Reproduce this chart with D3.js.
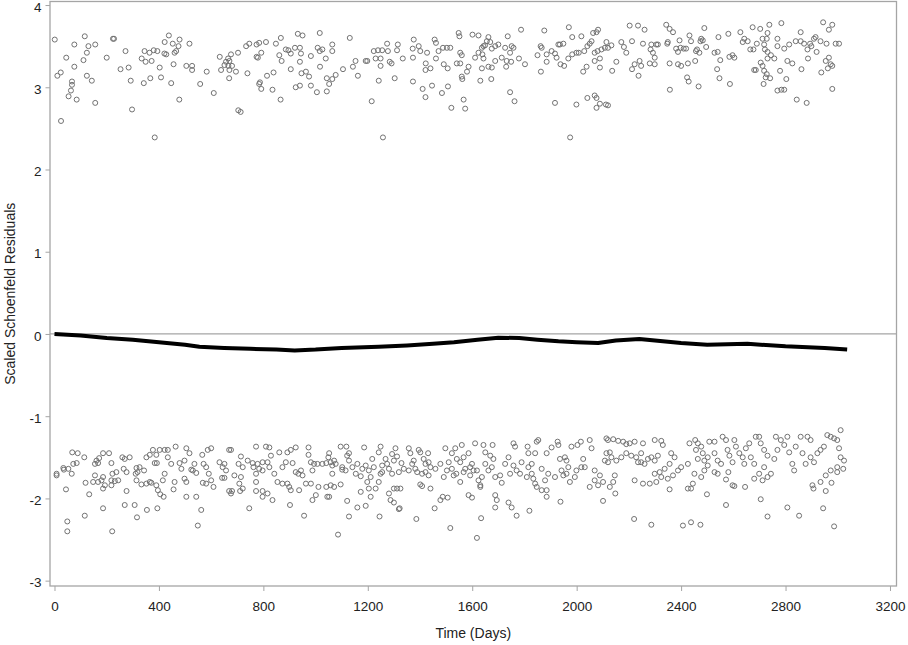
<!DOCTYPE html>
<html>
<head>
<meta charset="utf-8">
<script src="https://cdn.jsdelivr.net/npm/d3@7"></script>
<style>
  body { margin: 0; background: #fff; }
  text { font-family: "Liberation Sans", Arial, sans-serif; }
</style>
</head>
<body>
<div id="chart"></div>
<script>
// Residual points, upper band: [day, scaled residual]
const upperPoints = [
  [1,3.58],[116,3.62],[224,3.59],[228,3.59],[438,3.63],[479,3.58],[932,3.65],[950,3.63],[1016,3.66],
  [76,3.52],[130,3.50],[156,3.52],[45,3.36],[124,3.42],[111,3.33],[76,3.25],[11,3.14],[24,3.18],
  [67,3.07],[67,3.03],[63,2.96],[54,2.89],[85,2.85],[25,2.59],[124,3.14],[143,3.08],[156,2.81],
  [200,3.36],[272,3.44],[253,3.22],[284,3.24],[292,3.08],[297,2.73],
  [334,3.35],[349,3.31],[345,3.44],[364,3.42],[380,3.45],[394,3.44],[372,3.32],[403,3.24],[342,3.05],
  [367,3.11],[408,3.12],[447,3.05],[478,2.85],
  [422,3.55],[453,3.53],[475,3.50],[466,3.44],[460,3.42],[428,3.40],[421,3.41],[456,3.28],
  [517,3.53],[505,3.26],[527,3.26],[527,3.21],[558,3.04],[583,3.19],[610,2.93],[633,3.37],
  [676,3.40],[665,3.35],[657,3.31],[670,3.32],[651,3.27],[666,3.26],[680,3.26],[638,3.21],[670,3.21],
  [695,3.19],[669,3.11],[703,3.42],[704,2.72],[713,2.70],
  [734,3.50],[746,3.53],[774,3.52],[784,3.54],[810,3.55],[774,3.37],[779,3.36],[792,3.42],[739,3.17],
  [787,3.06],[784,3.04],[792,2.98],[814,3.14],[839,3.18],[835,2.97],
  [848,3.53],[867,3.60],[861,3.39],[870,3.32],[866,2.85],
  [886,3.46],[896,3.45],[905,3.41],[921,3.48],[940,3.48],[944,3.41],[905,3.22],[940,3.31],[946,3.17],
  [963,3.19],[975,3.13],[924,3.00],[940,3.02],[982,3.02],[1005,2.94],[982,3.38],
  [1008,3.48],[1016,3.44],[1026,3.46],[1039,3.35],[1017,3.25],[1043,3.11],[1043,2.95],
  [384,2.39],[1258,2.39],[1975,2.39],
  [1064,3.52],[1064,3.44],[1131,3.60],[1052,3.04],[1064,3.10],[1077,3.15],[1105,3.22],[1143,3.25],
  [1153,3.32],[1162,3.14],
  [1192,3.32],[1198,3.32],[1223,3.44],[1239,3.45],[1255,3.45],[1274,3.53],[1277,3.44],[1230,3.35],
  [1249,3.35],[1249,3.26],[1284,3.31],[1291,3.29],[1242,3.08],[1215,2.83],[1303,3.11],[1315,3.52],
  [1312,3.45],[1334,3.35],
  [1376,3.58],[1372,3.47],[1395,3.50],[1401,3.44],[1427,3.42],[1373,3.36],[1422,3.29],[1440,3.23],
  [1421,3.21],[1373,3.07],[1410,2.98],[1421,2.88],[1446,3.02],
  [1456,3.58],[1461,3.54],[1471,3.44],[1488,3.48],[1503,3.48],[1516,3.48],[1461,3.35],[1491,3.28],
  [1506,3.23],[1484,2.93],[1507,3.01],[1520,2.75],
  [1548,3.66],[1551,3.62],[1554,3.42],[1560,3.39],[1541,3.29],[1554,3.29],[1586,3.25],[1580,3.19],
  [1560,3.13],[1562,3.10],[1567,2.85],[1573,2.74],
  [1601,3.64],[1624,3.63],[1611,3.36],[1624,3.42],[1637,3.48],[1643,3.50],[1649,3.51],[1656,3.56],
  [1662,3.61],[1669,3.55],[1639,3.40],[1643,3.35],[1675,3.47],[1688,3.50],[1700,3.52],[1688,3.32],
  [1675,3.24],[1662,3.25],[1637,3.23],[1631,3.08],[1673,3.10],
  [1726,3.48],[1751,3.50],[1758,3.48],[1745,3.42],[1713,3.36],[1732,3.32],[1749,3.31],[1730,3.25],
  [1736,3.62],[1787,3.70],[1779,3.35],[1802,3.28],[1745,2.94],[1762,2.83],
  [1862,3.50],[1866,3.48],[1850,3.39],[1885,3.40],[1904,3.44],[1917,3.41],[1885,3.31],[1923,3.36],
  [1876,3.69],[1863,3.19],
  [1930,3.52],[1936,3.52],[1949,3.53],[1938,3.28],[1952,3.26],[1968,3.35],[1983,3.40],[1999,3.42],
  [2008,3.42],[2029,3.44],[2041,3.50],[2050,3.53],[2057,3.56],[1970,3.73],[1983,3.61],[2018,3.62],
  [1917,2.81],[1999,2.79],[2041,2.87],[2069,2.90],[2076,2.87],[2089,2.80],[2076,2.75],[2038,3.25],
  [2025,3.19],
  [2069,3.42],[2080,3.44],[2095,3.46],[2089,3.35],[2069,3.32],[2089,3.24],[2108,3.48],[2114,3.55],
  [2063,3.66],[2076,3.67],[2082,3.70],[2112,2.79],
  [2203,3.75],[2235,3.75],[2260,3.70],[2120,3.48],[2133,3.51],[2171,3.55],[2181,3.49],[2190,3.42],
  [2212,3.56],[2254,3.53],[2152,3.31],[2136,3.20],[2212,3.22],[2222,3.28],[2241,3.32],[2247,3.26],
  [2237,3.14],[2120,2.78],
  [2286,3.52],[2283,3.46],[2292,3.42],[2299,3.36],[2305,3.52],[2311,3.52],[2280,3.29],[2299,3.28],
  [2343,3.76],[2356,3.71],[2369,3.67],[2349,3.55],[2347,3.53],[2381,3.47],[2388,3.43],[2398,3.48],
  [2410,3.47],[2419,3.47],[2394,3.57],[2432,3.63],[2438,3.56],
  [2356,3.29],[2388,3.28],[2400,3.26],[2426,3.29],[2454,3.32],[2423,3.12],[2429,3.07],[2467,3.01],
  [2357,2.97],
  [2477,3.59],[2474,3.56],[2483,3.57],[2489,3.72],[2496,3.49],[2457,3.44],[2470,3.42],[2461,3.46],
  [2528,3.42],[2540,3.43],[2550,3.33],[2543,3.61],[2581,3.65],[2538,3.22],[2547,3.11],[2587,3.04],
  [2585,3.37],[2597,3.39],[2604,3.36],[2627,3.67],[2636,3.55],[2642,3.59],[2655,3.56],[2665,3.46],
  [2677,3.46],[2674,3.73],[2703,3.71],[2690,3.53],[2712,3.59],[2731,3.66],[2738,3.76],[2728,3.59],
  [2721,3.46],[2731,3.43],[2744,3.39],[2731,3.35],[2757,3.35],[2718,3.52],[2769,3.59],[2769,3.50],
  [2784,3.78],[2795,3.47],[2814,3.52],[2807,3.32],[2826,3.29],[2839,3.56],[2858,3.56],[2871,3.53],
  [2858,3.67],[2884,3.46],[2886,3.35],[2861,3.22],
  [2894,3.53],[2899,3.50],[2909,3.59],[2915,3.61],[2919,3.43],[2934,3.56],[2957,3.53],[2992,3.53],
  [3005,3.53],[2944,3.79],[2966,3.70],[2979,3.76],[2954,3.32],[2966,3.36],[2973,3.28],[2979,3.26],
  [2962,3.23],[2937,3.18],[2979,2.98],[2843,2.85],[2881,2.81],
  [2680,3.21],[2686,3.21],[2705,3.30],[2712,3.26],[2718,3.20],[2728,3.16],[2724,3.12],[2741,3.11],
  [2716,3.04],[2769,2.96],[2784,2.97],[2795,2.97],[2779,3.20],[2803,3.10]
];

// Residual points, lower band: [day, scaled residual]
const lowerPoints = [
  [8,-1.70],[8,-1.72],[34,-1.63],[36,-1.65],[53,-1.64],[66,-1.70],[68,-1.44],[89,-1.45],[72,-1.58],
  [85,-1.57],[114,-1.50],[44,-1.89],[49,-2.28],[49,-2.40],[116,-2.21],[119,-1.81],[133,-1.95],
  [155,-1.58],[161,-1.54],[167,-1.57],[171,-1.51],[186,-1.45],[209,-1.45],[155,-1.72],[148,-1.80],
  [167,-1.80],[180,-1.78],[186,-1.74],[193,-1.84],[186,-1.88],[186,-2.12],
  [218,-1.57],[222,-1.70],[237,-1.68],[218,-1.78],[231,-1.79],[244,-1.78],[218,-1.84],[221,-2.40],
  [260,-1.50],[269,-1.52],[288,-1.50],[265,-1.64],[276,-1.68],[276,-1.91],[269,-2.08],[307,-2.08],
  [314,-1.63],[318,-1.68],[311,-1.70],[326,-1.62],[343,-1.66],[314,-1.78],[333,-1.83],[352,-1.82],
  [365,-1.80],[352,-1.50],[365,-1.47],[316,-2.23],[354,-2.14],[394,-2.12],
  [377,-1.41],[390,-1.47],[403,-1.41],[422,-1.41],[434,-1.41],[384,-1.57],[392,-1.57],[371,-1.81],
  [390,-1.84],[396,-1.90],[405,-1.95],[418,-1.98],
  [415,-1.78],[422,-1.70],[434,-1.50],[447,-1.58],[456,-1.89],[460,-1.80],[464,-1.37],
  [479,-1.57],[486,-1.64],[498,-1.54],[505,-1.39],[498,-1.76],[505,-1.80],[517,-1.45],[524,-1.65],
  [530,-1.66],[543,-1.69],[536,-1.58],[505,-1.98],[543,-1.98],[562,-2.14],[549,-2.33],
  [566,-1.47],[571,-1.58],[581,-1.62],[587,-1.41],[600,-1.39],[591,-1.70],[581,-1.82],[600,-1.78],
  [609,-1.86],[568,-1.81],
  [632,-1.56],[644,-1.62],[651,-1.58],[657,-1.66],[642,-1.75],[651,-1.75],[669,-1.41],[676,-1.41],
  [669,-1.91],[680,-1.91],[676,-1.94],[689,-1.72],[705,-1.58],[714,-1.49],[721,-1.62],[714,-1.74],
  [708,-1.82],[721,-1.88],[711,-1.91],[746,-2.12],
  [740,-1.54],[759,-1.57],[772,-1.37],[762,-1.62],[778,-1.58],[784,-1.64],[772,-1.70],[797,-1.66],
  [810,-1.37],[823,-1.38],[797,-1.56],[816,-1.56],[823,-1.62],[829,-1.48],[772,-1.80],[772,-1.91],
  [797,-1.91],[797,-1.98],[816,-1.94],[835,-2.02],[854,-1.80],[842,-1.70],[861,-1.44],[873,-1.62],
  [886,-1.56],[873,-1.82],[892,-1.82],[899,-1.86],[905,-1.90],[902,-2.08],[892,-1.44],[924,-1.38],
  [905,-1.41],[912,-1.57],[924,-1.68],[934,-1.70],[944,-1.66],[950,-1.72],[937,-1.90],[956,-2.21],
  [973,-1.38],[973,-1.47],[982,-1.56],[988,-1.66],[994,-1.58],[963,-1.82],[982,-1.82],[1011,-1.86],
  [1001,-1.96],[988,-2.02],[1007,-1.58],[1026,-1.58],[1041,-1.57],[1049,-1.50],[1041,-1.86],[1045,-1.98],
  [1052,-1.45],[1058,-1.56],[1064,-1.60],[1071,-1.54],[1064,-1.70],[1058,-1.84],[1071,-1.86],[1052,-1.98],
  [1096,-1.37],[1118,-1.37],[1128,-1.45],[1121,-1.48],[1102,-1.65],[1115,-1.66],[1096,-1.83],[1121,-2.03],
  [1128,-2.22],[1086,-2.44],
  [1154,-1.70],[1173,-1.73],[1179,-1.64],[1186,-1.38],[1173,-1.92],[1160,-2.11],[1192,-2.09],[1192,-1.60],
  [1198,-1.80],[1211,-1.74],[1217,-1.52],[1204,-1.88],[1211,-1.98],[1230,-1.88],[1242,-1.80],[1249,-1.37],
  [1242,-1.44],[1249,-1.70],[1255,-1.68],[1245,-2.22],
  [1281,-1.94],[1287,-2.02],[1300,-2.05],[1300,-1.88],[1312,-1.88],[1325,-1.88],[1319,-2.13],[1322,-2.12],
  [1268,-1.52],[1293,-1.46],[1306,-1.39],[1300,-1.54],[1312,-1.49],[1281,-1.64],[1293,-1.70],[1329,-1.57],
  [1357,-1.39],[1363,-1.45],[1357,-1.66],[1376,-1.54],[1382,-1.64],[1389,-1.68],[1395,-1.41],[1401,-1.44],
  [1401,-1.83],[1408,-1.85],[1421,-1.58],[1414,-1.52],[1421,-1.68],[1433,-1.56],[1440,-1.62],[1433,-1.72],
  [1431,-1.45],[1440,-1.88],[1386,-2.25],[1456,-2.12],[1478,-2.02],[1487,-1.98],[1506,-1.99],[1491,-1.74],
  [1497,-1.39],[1510,-1.56],[1522,-1.64],[1522,-1.45],[1535,-1.39],[1541,-1.52],[1554,-1.80],[1516,-2.36],
  [1539,-1.70],[1554,-1.56],[1560,-1.35],[1567,-1.50],[1573,-1.64],[1586,-1.45],[1592,-1.62],[1599,-1.58],
  [1605,-1.66],[1611,-1.33],[1618,-1.66],[1624,-1.78],[1631,-1.84],[1631,-1.86],[1586,-1.96],[1599,-1.99],
  [1618,-2.48],[1634,-2.24],[1643,-1.35],[1650,-1.44],[1650,-1.58],[1662,-1.66],[1669,-1.48],[1675,-1.62],
  [1681,-1.52],[1688,-1.74],[1678,-1.35],[1688,-1.96],[1694,-2.02],[1688,-2.11],[1713,-1.81],[1726,-1.58],
  [1739,-1.50],[1758,-1.33],[1764,-1.37],[1758,-1.60],[1770,-1.66],[1739,-2.05],[1751,-2.11],[1770,-2.21],
  [1789,-1.56],[1815,-1.45],[1819,-2.15],[1812,-1.37],[1815,-1.62],[1828,-1.58],[1828,-1.70],[1841,-1.45],
  [1847,-1.31],[1853,-1.29],[1841,-1.82],[1847,-1.86],[1866,-1.90],[1885,-1.90],[1885,-1.98],[1866,-1.64],
  [1891,-1.70],[1885,-1.45],[1904,-1.38],[1927,-1.31],[1930,-1.35],[1936,-1.52],[1955,-1.50],[1961,-1.54],
  [1968,-1.62],[1942,-1.66],[1949,-1.72],[1938,-2.04],[1974,-1.80],[1980,-1.37],[1993,-1.74],[2003,-1.35],
  [2016,-1.31],[2025,-1.52],[2031,-1.62],[2050,-1.29],[2057,-1.39],[2069,-1.78],[2050,-1.86],[2082,-1.84],
  [2101,-2.03],[2101,-1.80],[2108,-1.54],[2114,-1.45],[2114,-1.27],
  [1077,-1.58],[1102,-1.62],[1128,-1.54],[1141,-1.62],[1160,-1.58],[1204,-1.66],[1223,-1.62],[1255,-1.60],
  [1274,-1.58],[1319,-1.68],[1338,-1.64],[1370,-1.58],[1408,-1.70],[1459,-1.64],[1478,-1.58],[1503,-1.66],
  [1529,-1.72],[1567,-1.68],[1592,-1.72],[1637,-1.74],[1707,-1.72],[1745,-1.70],[1783,-1.70],[1809,-1.74],
  [1834,-1.76],[1879,-1.78],[1917,-1.74],[1961,-1.70],[1999,-1.66],[2018,-1.62],[2069,-1.66],[2089,-1.72],
  [2120,-1.29],[2140,-1.28],[2159,-1.30],[2178,-1.31],[2190,-1.34],[2203,-1.33],[2127,-1.44],[2133,-1.50],
  [2120,-1.56],[2152,-1.54],[2171,-1.50],[2190,-1.45],[2209,-1.48],[2228,-1.50],[2247,-1.45],[2254,-1.33],
  [2222,-1.31],[2235,-1.56],[2247,-1.56],[2260,-1.58],[2273,-1.52],[2286,-1.50],[2299,-1.54],[2311,-1.48],
  [2299,-1.29],[2324,-1.30],[2330,-1.35],[2362,-1.45],[2375,-1.50],[2356,-1.58],[2337,-1.64],[2318,-1.68],
  [2299,-1.70],[2324,-1.74],[2349,-1.76],[2369,-1.72],[2388,-1.66],[2400,-1.62],[2426,-1.58],[2432,-1.33],
  [2454,-1.29],[2464,-1.33],[2477,-1.37],[2457,-1.41],[2483,-1.45],[2464,-1.52],[2489,-1.54],[2502,-1.50],
  [2508,-1.31],[2528,-1.31],[2502,-1.60],[2489,-1.66],[2477,-1.74],[2451,-1.70],[2445,-1.82],[2426,-1.88],
  [2528,-1.45],[2540,-1.54],[2553,-1.58],[2528,-1.68],[2540,-1.70],[2559,-1.25],[2572,-1.29],[2578,-1.41],
  [2585,-1.48],[2604,-1.29],[2610,-1.37],[2597,-1.56],[2581,-1.68],[2572,-1.77],[2597,-1.84],[2604,-1.85],
  [2623,-1.45],[2636,-1.50],[2642,-1.58],[2648,-1.39],[2661,-1.33],[2667,-1.50],[2680,-1.58],[2686,-1.25],
  [2699,-1.25],[2705,-1.33],[2718,-1.41],[2731,-1.48],[2718,-1.62],[2699,-1.70],[2680,-1.76],[2712,-1.78],
  [2731,-1.74],[2744,-1.70],[2757,-1.52],[2769,-1.41],[2763,-1.25],[2782,-1.29],[2795,-1.35],[2807,-1.25],
  [2814,-1.44],[2826,-1.58],[2833,-1.66],[2839,-1.37],[2858,-1.25],[2884,-1.25],[2896,-1.29],[2865,-1.45],
  [2877,-1.58],[2896,-1.50],[2909,-1.56],[2922,-1.45],[2934,-1.41],[2947,-1.37],[2960,-1.23],[2973,-1.25],
  [2986,-1.27],[2998,-1.29],[3011,-1.17],[3005,-1.39],[3011,-1.50],[3024,-1.54],[2998,-1.62],[2973,-1.66],
  [2954,-1.72],[2934,-1.80],[2903,-1.84],[2907,-1.88],[2954,-1.91],[2976,-1.81],[2998,-1.68],[3021,-1.64],
  [2146,-1.72],[2140,-1.80],[2148,-1.94],[2127,-1.86],[2222,-1.78],[2254,-1.82],[2280,-1.82],[2305,-1.80],
  [2356,-1.89],[2438,-1.88],[2499,-1.95],[2572,-2.08],[2645,-1.86],[2705,-2.01],[2731,-2.22],[2807,-2.11],
  [2852,-2.21],[2944,-2.12],[2220,-2.25],[2286,-2.32],[2407,-2.33],[2438,-2.29],[2474,-2.32],[2986,-2.34]
];

// Smoothed residual trend: [day, scaled residual]
const trendPoints = [
  [0,0.00],[100,-0.02],[200,-0.05],[300,-0.07],[400,-0.10],[500,-0.13],[555,-0.155],[650,-0.17],
  [750,-0.18],[850,-0.19],[920,-0.20],[1000,-0.19],[1100,-0.17],[1242,-0.155],[1350,-0.14],
  [1450,-0.12],[1530,-0.10],[1620,-0.07],[1700,-0.045],[1780,-0.05],[1850,-0.07],[1930,-0.09],
  [2000,-0.10],[2082,-0.11],[2150,-0.08],[2240,-0.06],[2300,-0.08],[2400,-0.11],[2500,-0.13],
  [2654,-0.12],[2800,-0.15],[2950,-0.17],[3036,-0.19]
];

const xTicks = [0, 400, 800, 1200, 1600, 2000, 2400, 2800, 3200];
const yTicks = [-3, -2, -1, 0, 1, 2, 3, 4];

const FRAME_COLOR = "#a5a5a5";
const MARKER_COLOR = "#727272";
const TEXT_COLOR = "#222";

const margin = { top: 1.5, right: 11.5, bottom: 59, left: 50 },
  width = 908 - margin.left - margin.right,
  height = 645 - margin.top - margin.bottom;

const svg = d3.select("#chart")
  .append("svg")
  .attr("width", 908)
  .attr("height", 645)
  .append("g")
  .attr("transform", `translate(${margin.left},${margin.top})`);

const x = d3.scaleLinear().domain([-17.2, 3225]).range([0, width]);
const y = d3.scaleLinear().domain([-3.065, 4.043]).range([height, 0]);

// plain labels: no thousands comma, ascii hyphen for negatives
const plain = d => String(d);

// axes
const xAxis = svg.append("g")
  .attr("transform", `translate(0,${height})`)
  .call(d3.axisBottom(x).tickValues(xTicks).tickFormat(plain)
    .tickSize(5).tickPadding(10).tickSizeOuter(0));
const yAxis = svg.append("g")
  .call(d3.axisLeft(y).tickValues(yTicks).tickFormat(plain)
    .tickSize(4.5).tickPadding(4).tickSizeOuter(0));

[xAxis, yAxis].forEach(a => {
  a.select(".domain").remove();
  a.selectAll(".tick line").attr("stroke", FRAME_COLOR);
  a.selectAll(".tick text")
    .attr("fill", TEXT_COLOR)
    .style("font-family", "'Liberation Sans', Arial, sans-serif")
    .style("font-size", "13.5px");
});
yAxis.selectAll(".tick text").attr("dy", "0.45em");

// frame
svg.append("rect")
  .attr("x", 0).attr("y", 0)
  .attr("width", width).attr("height", height)
  .attr("fill", "none")
  .attr("stroke", FRAME_COLOR)
  .attr("stroke-width", 1.3);

// zero reference line
svg.append("line")
  .attr("x1", 0).attr("x2", width)
  .attr("y1", y(0)).attr("y2", y(0))
  .attr("stroke", FRAME_COLOR)
  .attr("stroke-width", 1.3);

// residual markers
svg.selectAll(".resid")
  .data(upperPoints.concat(lowerPoints))
  .enter()
  .append("circle")
  .attr("class", "resid")
  .attr("cx", d => x(d[0]))
  .attr("cy", d => y(d[1]))
  .attr("r", 2.5)
  .attr("fill", "none")
  .attr("stroke", MARKER_COLOR)
  .attr("stroke-width", 1);

// smoothed trend
svg.append("path")
  .datum(trendPoints)
  .attr("fill", "none")
  .attr("stroke", "#000")
  .attr("stroke-width", 4)
  .attr("stroke-linejoin", "round")
  .attr("d", d3.line().x(d => x(d[0])).y(d => y(d[1])));

// axis labels
svg.append("text")
  .attr("x", width / 2)
  .attr("y", height + 52)
  .attr("text-anchor", "middle")
  .attr("fill", TEXT_COLOR)
  .attr("font-size", "14px")
  .text("Time (Days)");

svg.append("text")
  .attr("transform", `translate(${15 - margin.left},${height / 2}) rotate(-90)`)
  .attr("text-anchor", "middle")
  .attr("fill", TEXT_COLOR)
  .attr("font-size", "14px")
  .text("Scaled Schoenfeld Residuals");
</script>
</body>
</html>
